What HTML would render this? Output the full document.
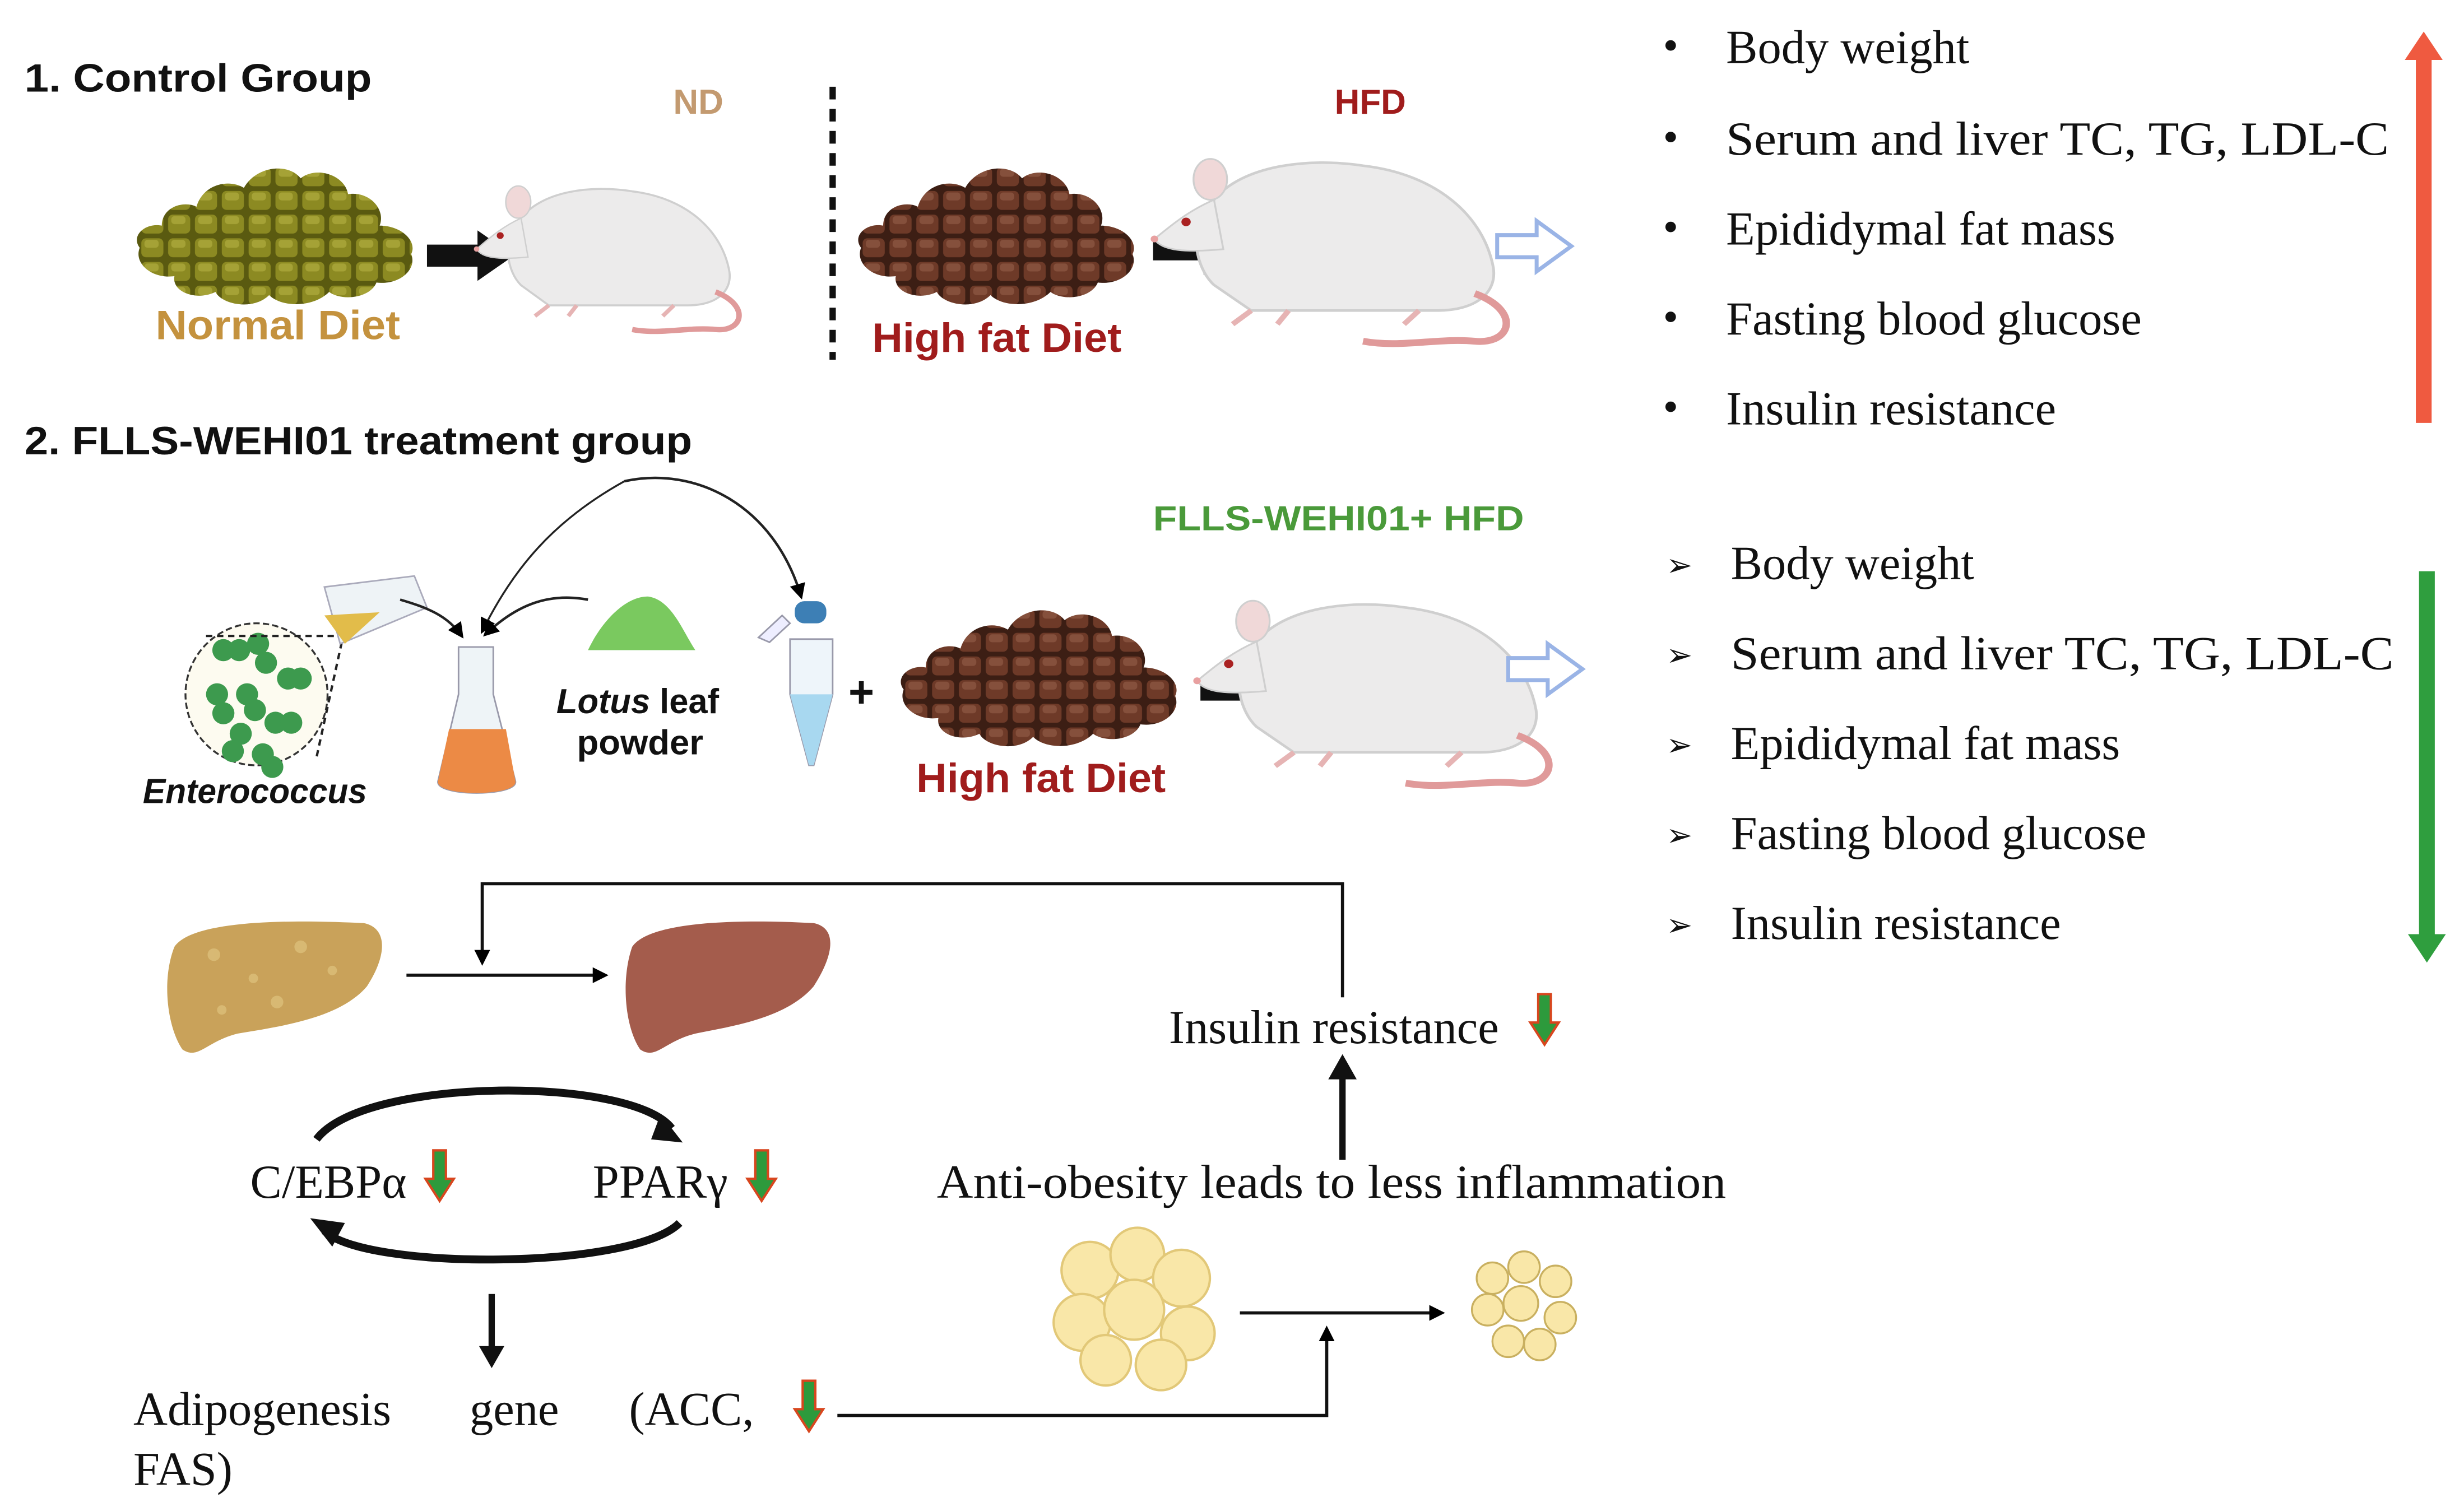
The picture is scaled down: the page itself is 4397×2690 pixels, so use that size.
<!DOCTYPE html>
<html><head><meta charset="utf-8"><style>
html,body{margin:0;padding:0;background:#fff;}
svg{display:block;}
.sb{font-family:"Liberation Sans",sans-serif;font-weight:bold;}
.sr{font-family:"Liberation Serif",serif;}
</style></head><body>
<svg width="4397" height="2690" viewBox="0 0 1560 955" xmlns="http://www.w3.org/2000/svg">
<defs>
<pattern id="pg" width="17" height="15" patternUnits="userSpaceOnUse">
<rect width="17" height="15" fill="#5a5a10"/>
<rect x="1" y="1" width="14" height="12" rx="3" fill="#8c8a22"/>
<rect x="3" y="2" width="9" height="5" rx="2" fill="#a5a236"/>
</pattern>
<pattern id="pb" width="17" height="15" patternUnits="userSpaceOnUse">
<rect width="17" height="15" fill="#3c1e14"/>
<rect x="1" y="1" width="14" height="12" rx="3" fill="#6e3a28"/>
<rect x="3" y="2" width="9" height="5" rx="2" fill="#85503c"/>
</pattern>
<marker id="ah" markerWidth="10" markerHeight="10" refX="8" refY="5" orient="auto" markerUnits="userSpaceOnUse"><path d="M0,0 L10,5 L0,10 z" fill="#000"/></marker>
<g id="rat">
<path d="M20,95 C10,85 5,60 20,45 C35,25 70,20 100,25 C140,30 165,55 170,85 C172,100 160,110 140,110 L40,110 Z" fill="#ecebeb" stroke="#cfcfcf" stroke-width="1.5"/>
<path d="M20,45 C5,52 -5,62 -12,68 C-8,75 5,76 25,74 Z" fill="#ecebeb" stroke="#cfcfcf"/>
<ellipse cx="18" cy="33" rx="9" ry="12" fill="#f0d8d8" stroke="#cfcfcf"/>
<circle cx="5" cy="58" r="2.5" fill="#a22"/>
<circle cx="-12" cy="68" r="2" fill="#e8a0a0"/>
<path d="M160,100 C185,110 180,130 160,128 C140,126 120,132 100,128" fill="none" stroke="#e09a9a" stroke-width="4"/>
<path d="M40,110 l-10,8 M60,110 l-6,8 M130,110 l-8,8" stroke="#e6b4b4" stroke-width="3"/>
</g>
<g id="hol"><path d="M0,-7 L25,-7 L25,-16 L47,0 L25,16 L25,7 L0,7 Z" fill="#fff" stroke="#9ab4e6" stroke-width="2.5"/></g>
<g id="bk"><path d="M0,-7 L32,-7 L32,-16 L55,0 L32,16 L32,7 L0,7 Z" fill="#111"/></g>
<g id="dn"><path d="M-4,-18 L4,-18 L4,0 L9,0 L0,14 L-9,0 L-4,0 Z" fill="#2d9a3c" stroke="#d8461e" stroke-width="1.5"/></g>
<path id="pile" d="M0,52 C-6,44 4,36 14,38 C14,26 28,22 36,26 C40,12 56,8 66,14 C74,0 94,-2 102,8 C112,0 130,6 132,18 C146,16 156,28 152,38 C166,38 176,48 172,56 C176,66 164,76 150,74 C146,84 128,86 120,80 C110,90 90,90 82,82 C72,92 52,88 48,80 C36,86 20,80 22,70 C8,72 -4,62 0,52 Z"/>
</defs>

<!-- Section 1 -->
<text x="15" y="58" class="sb" font-size="25" fill="#111" textLength="220" lengthAdjust="spacingAndGlyphs">1.  Control Group</text>
<text x="426" y="72" class="sb" font-size="22" fill="#c39a70">ND</text>
<line x1="527" y1="55" x2="527" y2="228" stroke="#111" stroke-width="4" stroke-dasharray="8,6"/>
<text x="845" y="72" class="sb" font-size="22" fill="#a01c1c">HFD</text>

<use href="#pile" transform="translate(88,105)" fill="url(#pg)"/>
<use href="#bk" x="270" y="162"/>
<use href="#rat" transform="translate(312,100) scale(0.88,0.85)"/>
<text x="98" y="215" class="sb" font-size="26" fill="#c4923e" textLength="155" lengthAdjust="spacingAndGlyphs">Normal Diet</text>

<use href="#pile" transform="translate(545,105)" fill="url(#pb)"/>
<use href="#bk" x="730" y="158"/>
<use href="#rat" transform="translate(745,78) scale(1.18,1.08)"/>
<use href="#hol" x="948" y="156"/>
<text x="552" y="223" class="sb" font-size="26" fill="#a01c1c" textLength="158" lengthAdjust="spacingAndGlyphs">High fat Diet</text>

<!-- Section 2 -->
<text x="15" y="288" class="sb" font-size="25" fill="#111" textLength="423" lengthAdjust="spacingAndGlyphs">2.  FLLS-WEHI01 treatment group</text>
<text x="730" y="336" class="sb" font-size="22" fill="#4a9a3a" textLength="235" lengthAdjust="spacingAndGlyphs">FLLS-WEHI01+ HFD</text>

<circle cx="162" cy="440" r="45" fill="#fdfbf0" stroke="#333" stroke-width="1.2" stroke-dasharray="4,2"/>
<g fill="#3d9a4e">
<circle cx="141" cy="412" r="7"/><circle cx="151" cy="412" r="7"/>
<circle cx="163" cy="408" r="7"/><circle cx="168" cy="420" r="7"/>
<circle cx="182" cy="430" r="7"/><circle cx="190" cy="430" r="7"/>
<circle cx="137" cy="440" r="7"/><circle cx="141" cy="452" r="7"/>
<circle cx="156" cy="440" r="7"/><circle cx="161" cy="450" r="7"/>
<circle cx="174" cy="458" r="7"/><circle cx="184" cy="458" r="7"/>
<circle cx="152" cy="465" r="7"/><circle cx="147" cy="476" r="7"/>
<circle cx="166" cy="478" r="7"/><circle cx="172" cy="486" r="7"/>
</g>
<path d="M130,403 L215,403 M216,407 L200,480" stroke="#222" stroke-width="1.5" stroke-dasharray="4,3" fill="none"/>
<path d="M205,372 L262,365 L270,385 L215,408 Z" fill="#eef3f6" stroke="#aab" stroke-width="1"/>
<path d="M205,390 L240,388 L218,408 Z" fill="#e2bc4a"/>
<path d="M290,410 L312,410 L312,440 L326,495 C328,505 275,505 277,495 L290,440 Z" fill="#eef4f7" stroke="#99a" stroke-width="1"/>
<path d="M284,462 L320,462 L326,495 C328,505 275,505 277,495 Z" fill="#ec8a45"/>
<path d="M372,412 C380,395 395,378 410,378 C425,380 432,400 440,412 Z" fill="#7ac95f"/>
<path d="M495,390 L480,404 L487,407 L500,395 Z" fill="#eef" stroke="#99a"/>
<rect x="503" y="381" width="20" height="14" rx="6" fill="#3d7fb5"/>
<path d="M500,405 L527,405 L527,440 L515,485 L512,485 L500,440 Z" fill="#eef5fa" stroke="#99a"/>
<path d="M500,440 L527,440 L515,485 L512,485 Z" fill="#a8d8f0"/>
<path d="M253,380 C270,385 283,390 292,403" fill="none" stroke="#222" stroke-width="1.6" marker-end="url(#ah)"/>
<path d="M395,305 C350,330 325,360 305,400" fill="none" stroke="#222" stroke-width="1.2" marker-end="url(#ah)"/>
<path d="M395,305 C440,295 490,320 507,378" fill="none" stroke="#222" stroke-width="1.6" marker-end="url(#ah)"/>
<path d="M372,380 C345,375 325,385 307,402" fill="none" stroke="#222" stroke-width="1.6" marker-end="url(#ah)"/>
<text x="352" y="452" class="sb" font-size="22" fill="#111" textLength="103" lengthAdjust="spacingAndGlyphs"><tspan font-style="italic">Lotus</tspan> leaf</text>
<text x="365" y="478" class="sb" font-size="22" fill="#111" textLength="80" lengthAdjust="spacingAndGlyphs">powder</text>
<text x="90" y="509" class="sb" font-size="22" font-style="italic" fill="#111" textLength="142" lengthAdjust="spacingAndGlyphs">Enterococcus</text>
<text x="537" y="448" class="sb" font-size="28" fill="#111">+</text>

<use href="#pile" transform="translate(572,385)" fill="url(#pb)"/>
<use href="#bk" x="760" y="437"/>
<use href="#rat" transform="translate(772,358) scale(1.18,1.08)"/>
<use href="#hol" x="955" y="424"/>
<text x="580" y="502" class="sb" font-size="26" fill="#a01c1c" textLength="158" lengthAdjust="spacingAndGlyphs">High fat Diet</text>

<!-- Right lists -->
<g class="sr" font-size="30" fill="#111">
<text x="1053" y="38" font-size="28">•</text><text x="1093" y="40">Body weight</text>
<text x="1053" y="96" font-size="28">•</text><text x="1093" y="98" textLength="420" lengthAdjust="spacingAndGlyphs">Serum and liver TC, TG, LDL-C</text>
<text x="1053" y="153" font-size="28">•</text><text x="1093" y="155">Epididymal fat mass</text>
<text x="1053" y="210" font-size="28">•</text><text x="1093" y="212">Fasting blood glucose</text>
<text x="1053" y="267" font-size="28">•</text><text x="1093" y="269">Insulin resistance</text>
<text x="1055" y="365" font-size="20">➢</text><text x="1096" y="367">Body weight</text>
<text x="1055" y="422" font-size="20">➢</text><text x="1096" y="424" textLength="420" lengthAdjust="spacingAndGlyphs">Serum and liver TC, TG, LDL-C</text>
<text x="1055" y="479" font-size="20">➢</text><text x="1096" y="481">Epididymal fat mass</text>
<text x="1055" y="536" font-size="20">➢</text><text x="1096" y="538">Fasting blood glucose</text>
<text x="1055" y="593" font-size="20">➢</text><text x="1096" y="595">Insulin resistance</text>
</g>
<path d="M1530,268 L1530,38 L1523,38 L1535,20 L1547,38 L1540,38 L1540,268 Z" fill="#ef5a40"/>
<path d="M1532,362 L1542,362 L1542,592 L1549,592 L1537,610 L1525,592 L1532,592 Z" fill="#2f9e3e"/>

<!-- Bottom -->
<path d="M110,600 C120,585 170,582 230,585 C245,588 245,605 232,625 C215,645 180,650 150,655 C130,660 125,672 115,665 C105,650 102,620 110,600 Z" fill="#c9a25a"/>
<g fill="#dcbf7a" opacity="0.8"><circle cx="135" cy="605" r="4"/><circle cx="160" cy="620" r="3"/><circle cx="190" cy="600" r="4"/><circle cx="210" cy="615" r="3"/><circle cx="140" cy="640" r="3"/><circle cx="175" cy="635" r="4"/></g>
<path d="M400,600 C410,585 460,582 515,585 C530,588 528,605 515,625 C498,645 465,650 440,655 C420,660 415,672 405,665 C395,650 393,620 400,600 Z" fill="#a45c4c"/>
<line x1="257" y1="618" x2="383" y2="618" stroke="#111" stroke-width="2" marker-end="url(#ah)"/>
<polyline points="850,632 850,560 305,560 305,610" fill="none" stroke="#111" stroke-width="2" marker-end="url(#ah)"/>

<g class="sr" font-size="30" fill="#111">
<text x="740" y="661">Insulin resistance</text>
<text x="593" y="759" textLength="500" lengthAdjust="spacingAndGlyphs">Anti-obesity leads to less inflammation</text>
<text x="158" y="759">C/EBPα</text>
<text x="375" y="759">PPARγ</text>
<text x="84" y="903">Adipogenesis</text>
<text x="297" y="903">gene</text>
<text x="398" y="903">(ACC,</text>
<text x="84" y="941">FAS)</text>
</g>
<use href="#dn" x="978" y="648"/>
<line x1="850" y1="735" x2="850" y2="680" stroke="#111" stroke-width="4"/>
<path d="M841,684 L850,668 L859,684 Z" fill="#111"/>

<path d="M200,722 C230,682 400,682 425,715" fill="none" stroke="#111" stroke-width="5"/>
<path d="M418,706 L432,724 L412,722 Z" fill="#111"/>
<path d="M430,775 C400,805 230,805 205,780" fill="none" stroke="#111" stroke-width="5"/>
<path d="M210,790 L196,772 L218,775 Z" fill="#111"/>
<use href="#dn" x="278" y="747"/>
<use href="#dn" x="482" y="747"/>
<line x1="311" y1="820" x2="311" y2="855" stroke="#111" stroke-width="4"/>
<path d="M303,853 L311,867 L319,853 Z" fill="#111"/>
<use href="#dn" x="512" y="893"/>
<polyline points="530,897 840,897 840,842" fill="none" stroke="#111" stroke-width="2" marker-end="url(#ah)"/>
<line x1="785" y1="832" x2="913" y2="832" stroke="#111" stroke-width="2" marker-end="url(#ah)"/>

<g fill="#f9e7a8" stroke="#e2c878" stroke-width="1.5">
<circle cx="690" cy="805" r="18"/><circle cx="720" cy="795" r="17"/><circle cx="748" cy="810" r="18"/>
<circle cx="685" cy="838" r="18"/><circle cx="718" cy="830" r="19"/><circle cx="752" cy="845" r="17"/>
<circle cx="700" cy="862" r="16"/><circle cx="735" cy="865" r="16"/>
</g>
<g fill="#f9e7a8" stroke="#c9b060" stroke-width="1.2">
<circle cx="945" cy="810" r="10"/><circle cx="965" cy="803" r="10"/><circle cx="985" cy="812" r="10"/>
<circle cx="942" cy="830" r="10"/><circle cx="963" cy="826" r="11"/><circle cx="988" cy="835" r="10"/>
<circle cx="955" cy="850" r="10"/><circle cx="975" cy="852" r="10"/>
</g>
</svg>
</body></html>
